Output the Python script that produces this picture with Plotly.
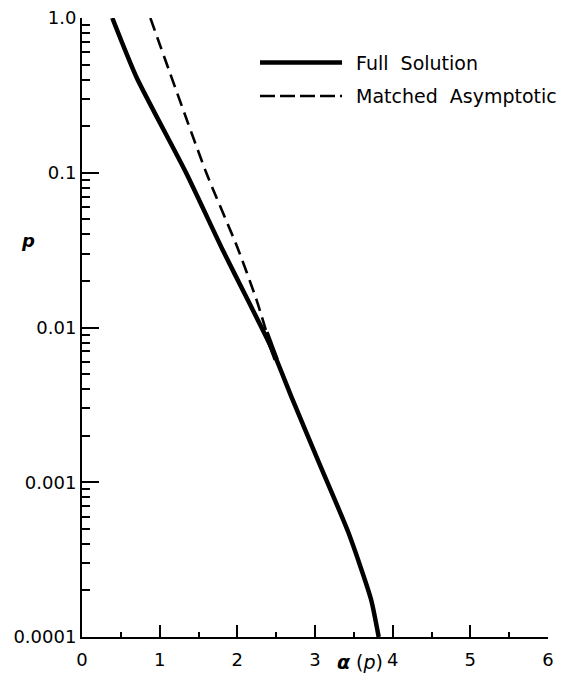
import plotly.graph_objects as go

# Full Solution curve (alpha, p)
full_alpha = [0.39, 0.70, 1.34, 1.81, 2.13, 2.45, 2.71, 3.07, 3.43, 3.72, 3.82]
full_p = [1.0, 0.416, 0.1, 0.0318, 0.0152, 0.0072, 0.00343, 0.00127, 0.000473, 0.000176, 0.0001]

# Matched Asymptotic curve
asym_alpha = [0.88, 1.60, 2.00, 2.245, 2.40]
asym_p = [1.0, 0.1, 0.033, 0.0152, 0.0085]

# heavy end of the asymptotic curve where it joins the full solution
asym_tip_alpha = [2.37, 2.50]
asym_tip_p = [0.0093, 0.0062]

x_ticks = [0, 1, 2, 3, 4, 5, 6]
x_minor = [0.5, 1.5, 2.5, 3.5, 4.5, 5.5]
y_ticks = [0.0001, 0.001, 0.01, 0.1, 1.0]
y_ticktext = ["0.0001", "0.001", "0.01", "0.1", "1.0"]
y_minor = [m * 10.0 ** e for e in range(-4, 0) for m in range(2, 10)]

legend_names = ["Full  Solution", "Matched  Asymptotic"]

FONT = "DejaVu Sans"

fig = go.Figure()
fig.add_trace(go.Scatter(x=full_alpha, y=full_p, mode="lines", name=legend_names[0],
                         line=dict(color="black", width=4.5, shape="spline", smoothing=0.6),
                         cliponaxis=False, showlegend=False))
fig.add_trace(go.Scatter(x=asym_alpha, y=asym_p, mode="lines", name=legend_names[1],
                         line=dict(color="black", width=2.6, dash="13px,7px", shape="spline", smoothing=0.6),
                         cliponaxis=False, showlegend=False))
fig.add_trace(go.Scatter(x=asym_tip_alpha, y=asym_tip_p, mode="lines", name=legend_names[1],
                         line=dict(color="black", width=5.5), cliponaxis=False, showlegend=False))

# legend drawn manually (long line samples)
leg_y = [0.928, 0.874]
for i, (nm, ln) in enumerate(zip(legend_names, [dict(color="black", width=4.5), dict(color="black", width=2.6, dash="15px,5px")])):
    fig.add_shape(type="line", xref="paper", yref="paper", x0=0.382, x1=0.558, y0=leg_y[i], y1=leg_y[i], line=ln)
    fig.add_annotation(xref="paper", yref="paper", x=0.584, y=leg_y[i], text=nm, showarrow=False,
                       xanchor="left", yanchor="middle", font=dict(family=FONT, size=19, color="black"))

# axis labels
fig.add_annotation(xref="paper", yref="paper", x=0.596, y=-39 / 619, text="<i><b>α</b></i> (<i>p</i>)", showarrow=False,
                   xanchor="center", yanchor="bottom", yshift=1, font=dict(family=FONT, size=19, color="black"))
fig.add_annotation(xref="paper", yref="paper", x=-0.116, y=0.64, text="<i><b>p</b></i>", showarrow=False,
                   xanchor="center", yanchor="middle", font=dict(family=FONT, size=18, color="black"))

fig.update_layout(
    width=553, height=668,
    margin=dict(l=74, r=13, t=10, b=39),
    paper_bgcolor="white", plot_bgcolor="white",
    font=dict(family=FONT, size=18, color="black"),
    showlegend=False,
)
fig.update_xaxes(range=[0, 6], tickmode="array", tickvals=x_ticks, ticks="inside", ticklen=12, tickwidth=2,
                 tickcolor="black", showline=True, linecolor="black", linewidth=2, showgrid=False, zeroline=False,
                 ticklabelstandoff=5, automargin=False, ticklabeloverflow="allow",
                 minor=dict(tickvals=x_minor, ticks="inside", ticklen=5, tickwidth=2, tickcolor="black", showgrid=False))
fig.update_yaxes(type="log", range=[-4, 0], tickmode="array", tickvals=y_ticks, ticktext=y_ticktext,
                 ticks="inside", ticklen=17, tickwidth=2, tickcolor="black", showline=True, linecolor="black",
                 linewidth=2, showgrid=False, zeroline=False, ticklabelstandoff=0, automargin=False,
                 ticklabeloverflow="allow",
                 minor=dict(tickvals=y_minor, ticks="inside", ticklen=8, tickwidth=2, tickcolor="black", showgrid=False))

fig.write_html("out.html")
